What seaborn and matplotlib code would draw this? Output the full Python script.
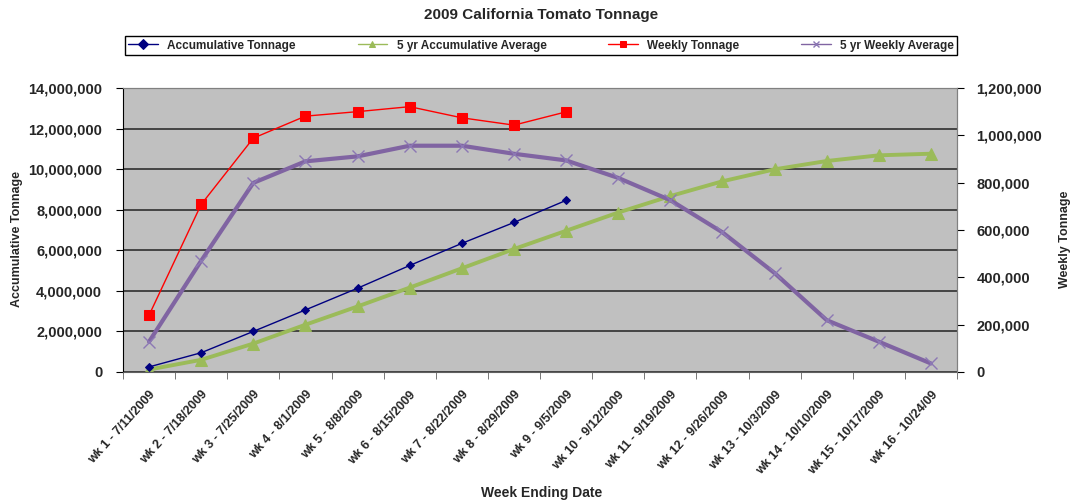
import numpy as np
import pandas as pd
import seaborn as sns
import matplotlib.pyplot as plt
from matplotlib.ticker import FuncFormatter, MultipleLocator, FixedLocator

weeks = ["wk 1 - 7/11/2009", "wk 2 - 7/18/2009", "wk 3 - 7/25/2009", "wk 4 - 8/1/2009",
         "wk 5 - 8/8/2009", "wk 6 - 8/15/2009", "wk 7 - 8/22/2009", "wk 8 - 8/29/2009",
         "wk 9 - 9/5/2009", "wk 10 - 9/12/2009", "wk 11 - 9/19/2009", "wk 12 - 9/26/2009",
         "wk 13 - 10/3/2009", "wk 14 - 10/10/2009", "wk 15 - 10/17/2009", "wk 16 - 10/24/09"]
accum_tonnage = [250000, 950000, 2000000, 3060000, 4130000, 5250000, 6340000, 7370000, 8460000]
avg_accum = [120000, 600000, 1400000, 2330000, 3230000, 4160000, 5110000, 6060000,
             6960000, 7860000, 8670000, 9400000, 9990000, 10400000, 10680000, 10760000]
weekly_tonnage = [240000, 708000, 988000, 1081000, 1100000, 1121000, 1074000, 1043000, 1099000]
avg_weekly = [128000, 470000, 799000, 890000, 911000, 956000, 956000, 922000,
              894000, 820000, 726000, 590000, 418000, 219000, 128000, 36000]

sns.set_style("white")
plt.rcParams['font.family'] = ['Liberation Sans', 'DejaVu Sans']
plt.rcParams['font.weight'] = 'bold'

df = pd.DataFrame({'week': weeks, 'pos': np.arange(len(weeks))})
df['acc'] = pd.Series(accum_tonnage, dtype=float)
df['avg_acc'] = pd.Series(avg_accum, dtype=float)
df['wk'] = pd.Series(weekly_tonnage, dtype=float)
df['avg_wk'] = pd.Series(avg_weekly, dtype=float)

fig = plt.figure(figsize=(10.77, 5.01), dpi=100)
ax = fig.add_axes([0.1142, 0.2575, 0.7744, 0.5669])
ax.set_facecolor('#C0C0C0')
ax2 = ax.twinx()

# left axis series
sns.lineplot(data=df, x='pos', y='avg_acc', ax=ax, color='#9BBB59', lw=2.8, marker='^', ms=8,
             mec='#9BBB59', label='5 yr Accumulative Average')
sns.lineplot(data=df, x='pos', y='acc', ax=ax, color='#000080', lw=1, marker='D', ms=4,
             mec='#000080', label='Accumulative Tonnage')
# right axis series
sns.lineplot(data=df, x='pos', y='avg_wk', ax=ax2, color='#8064A2', lw=3, marker='x', ms=9,
             mew=1, mec='#8C78B4', label='5 yr Weekly Average')
sns.lineplot(data=df, x='pos', y='wk', ax=ax2, color='#FF0000', lw=1, marker='s', ms=7,
             mec='#FF0000', label='Weekly Tonnage')

h1, l1 = ax.get_legend_handles_labels()
h2, l2 = ax2.get_legend_handles_labels()
for a in (ax, ax2):
    if a.get_legend() is not None:
        a.get_legend().remove()
hd = dict(zip(l1 + l2, h1 + h2))
order = ['Accumulative Tonnage', '5 yr Accumulative Average', 'Weekly Tonnage', '5 yr Weekly Average']
leg = fig.legend([hd[k] for k in order], order, loc='center', ncol=4, mode='expand',
                 bbox_to_anchor=(0.1105, 0.889, 0.784, 0.04), fancybox=False, edgecolor='black',
                 fontsize=8.5, handlelength=2.5, borderpad=0.3, framealpha=1)
for ln in leg.get_lines():
    ln.set_linewidth(1)
    ln.set_markersize(5)

# axes ranges and ticks
ax.set_xlim(-0.5, 15.5)
ax.set_ylim(0, 14000000)
ax2.set_ylim(0, 1200000)
ax.yaxis.set_major_locator(MultipleLocator(2000000))
ax2.yaxis.set_major_locator(MultipleLocator(200000))
fmt = FuncFormatter(lambda v, p: f"{v:,.0f}")
ax.yaxis.set_major_formatter(fmt)
ax2.yaxis.set_major_formatter(fmt)
ax.set_xticks(np.arange(len(weeks)))
ax.set_xticklabels(weeks, rotation=48, ha='right', rotation_mode='anchor', fontsize=9)
ax.xaxis.set_minor_locator(FixedLocator(np.arange(-0.5, 16, 1)))
ax.tick_params(axis='x', which='major', length=0, pad=12)
ax.tick_params(axis='x', which='minor', length=5, color='#606060', direction='out', bottom=True)
ax.tick_params(axis='y', length=5, direction='out', left=True, pad=10, labelsize=10.5, color='black')
ax2.tick_params(axis='y', length=5, direction='out', right=True, pad=9, labelsize=10.5, color='black')

ax.yaxis.grid(True, color='#3A3A3A', lw=1.3)
ax.set_axisbelow(True)
for s in ['top', 'right']:
    ax.spines[s].set_color('#808080')
    ax2.spines[s].set_color('#808080')
ax.spines['left'].set_color('black')
ax.spines['bottom'].set_color('#606060')
ax2.spines['left'].set_visible(False)
ax2.spines['bottom'].set_visible(False)

ax.set_xlabel('')
ax.set_ylabel('')
ax2.set_ylabel('')
fig.text(0.5025, 0.970, '2009 California Tomato Tonnage', ha='center', va='center', fontsize=11, fontweight='bold')
fig.text(0.016, 0.523, 'Accumulative Tonnage', rotation=90, ha='center', va='center', fontsize=9, fontweight='bold')
fig.text(0.989, 0.523, 'Weekly Tonnage', rotation=90, ha='center', va='center', fontsize=9, fontweight='bold')
fig.text(0.5025, 0.016, 'Week Ending Date', ha='center', va='center', fontsize=10, fontweight='bold')

plt.savefig('out.png', dpi=100)
